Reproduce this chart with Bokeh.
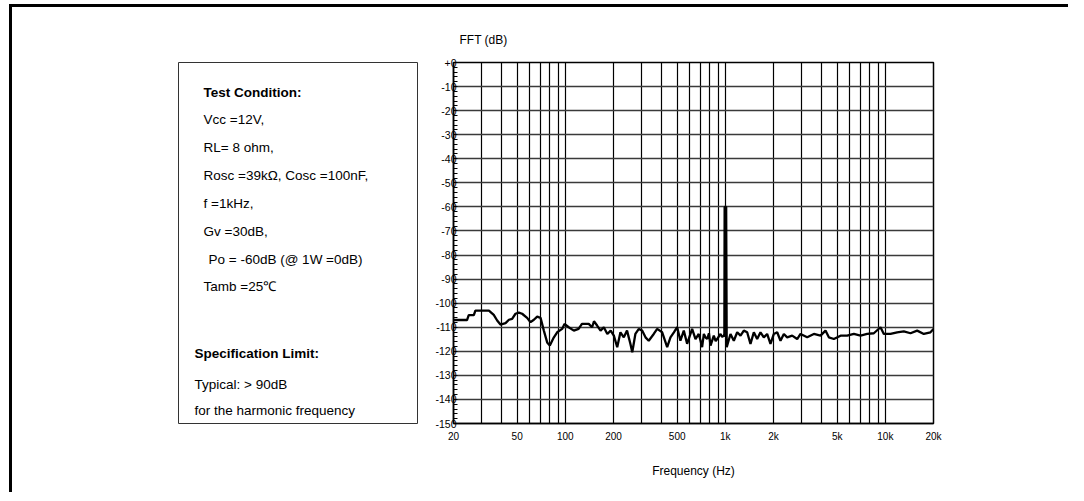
from bokeh.plotting import figure
from bokeh.models import Range1d, FixedTicker
from bokeh.layouts import row
from bokeh.embed import file_html
from bokeh.resources import INLINE
from bokeh.core.properties import value

# ---------------- data ----------------
freq_hz = [20, 24.3, 24.9, 26.8, 27.4, 33.3, 35.7, 37.5, 39.3, 42.3, 44.4, 46.5, 48.8, 51.2,
           53.7, 57.7, 60.6, 63.6, 66.7, 70, 73.4, 77, 80, 84.8, 88.9, 95.5, 98.8, 105, 113,
           121, 127, 140, 147, 151, 158, 166, 174, 183, 192, 201, 211, 221, 232, 243, 255,
           262, 274, 288, 302, 317, 332, 357, 375, 403, 433, 454, 477, 500, 524, 550, 577,
           620, 651, 682, 700, 716, 734, 751, 770, 790, 808, 847, 870, 889, 933, 955, 979,
           986, 990, 1012, 1020, 1077, 1130, 1186, 1244, 1305, 1369, 1436, 1507, 1581, 1658,
           1740, 1825, 1915, 2010, 2109, 2212, 2321, 2435, 2617, 2812, 2950, 3248, 3575, 3935,
           4226, 4436, 4768, 5248, 5777, 6357, 6998, 7700, 8475, 9328, 9786, 10772, 11854,
           13048, 14360, 15806, 17400, 19150, 20000]
fft_db = [-107, -107, -105, -105, -103.1, -103.1, -104.9, -107.2, -108.9, -108.3, -106.9, -106.5,
          -104.4, -103.9, -104.4, -106.1, -107.9, -106.9, -105.6, -106.1, -111.4, -116.3, -117.6,
          -114.2, -112.1, -110.7, -108.6, -110, -111.4, -110.7, -108.6, -108.6, -110, -107.5,
          -109.3, -111.4, -110, -112.8, -111.4, -113.5, -118.3, -112.1, -114.2, -111.4, -116.9,
          -120.4, -112.8, -110.7, -111.4, -114.2, -115.6, -112.8, -110.7, -112.1, -118.3, -114.2,
          -112.1, -110, -115.6, -111.4, -116.9, -110.7, -114.9, -112.8, -115.6, -118.3, -112.8,
          -114.2, -114.9, -112.5, -117.6, -113.5, -115.8, -114.9, -112.8, -114, -113.5,
          -114, -60, -60, -118.3, -112.8, -115.6, -112.1, -113.5, -111.4, -112.1, -116.9, -112.1,
          -114.9, -112.1, -114.2, -112.8, -116.9, -112.8, -112.1, -115.6, -112.8, -114.2, -113.5,
          -114.9, -112.8, -114.2, -112.8, -113.5, -111.4, -114.2, -114.9, -113.5, -113.5, -112.8,
          -113.5, -112.8, -112.5, -110, -112.8, -112.8, -112.1, -111.7, -112.5, -111.4, -112.8,
          -112.1, -110.7]

y_ticks = list(range(-150, 1, 10))
y_minor = list(range(-150, 1, 2))
y_tick_text = ["+0" if v == 0 else str(v) for v in y_ticks]
x_label_ticks = [20, 50, 100, 200, 500, 1000, 2000, 5000, 10000, 20000]
x_label_text = ["20", "50", "100", "200", "500", "1k", "2k", "5k", "10k", "20k"]
x_grid_ticks = [20, 30, 40, 50, 60, 70, 80, 90, 100, 200, 300, 400, 500, 600, 700, 800, 900,
                1000, 2000, 3000, 4000, 5000, 6000, 7000, 8000, 9000, 10000, 20000]

condition_title = "Test Condition:"
condition_lines = ["Vcc =12V,", "RL= 8 ohm,", "Rosc =39kΩ, Cosc =100nF,", "f =1kHz,",
                   "Gv =30dB,", "Po = -60dB (@ 1W =0dB)", "Tamb =25℃"]
spec_title = "Specification Limit:"
spec_lines = ["Typical: > 90dB", "for the harmonic   frequency"]

# ---------------- layout (page pixels) ----------------
OX, OY = 12, 7                     # page position of the layout content
FL, FR, FT, FB = 453, 933, 62, 423 # chart frame in page pixels
BOX_L, BOX_R = 178, 418            # text box left/right edges in page pixels
H = 485
W_LEFT = BOX_R - OX
W_RIGHT = 650
FONT = "Liberation Sans"
TXT = "13.5px"

# ---------- left panel: text box (its frame is the box) ----------
left = figure(width=W_LEFT, height=H, x_range=Range1d(BOX_L, BOX_R),
              y_range=Range1d(FB, FT), output_backend="svg", toolbar_location=None,
              x_axis_location=None, y_axis_location=None,
              min_border_left=BOX_L - OX, min_border_right=0,
              min_border_top=FT - OY, min_border_bottom=OY + H - FB)
left.grid.visible = False
left.outline_line_color = "#333333"
left.outline_line_width = 1
left.background_fill_color = "white"
left.border_fill_color = "white"

cond_x = [203, 203, 203, 203, 203, 208, 203]
cond_y = [119, 147, 175, 203, 231, 259, 286]
left.text(x=[203], y=[92], text=[condition_title], text_font=value(FONT),
          text_font_size=TXT, text_font_style="bold", text_baseline="middle",
          text_color="black")
left.text(x=cond_x, y=cond_y, text=condition_lines, text_font=value(FONT),
          text_font_size=TXT, text_baseline="middle", text_color="black")
left.text(x=[194], y=[353], text=[spec_title], text_font=value(FONT),
          text_font_size=TXT, text_font_style="bold", text_baseline="middle",
          text_color="black")
left.text(x=[194, 194], y=[384, 410], text=spec_lines, text_font=value(FONT),
          text_font_size=TXT, text_baseline="middle", text_color="black")

# ---------- right panel: FFT chart ----------
RX = BOX_R
p = figure(width=W_RIGHT, height=H, x_axis_type="log",
           x_range=Range1d(20, 20000), y_range=Range1d(-150, 0),
           output_backend="svg", toolbar_location=None,
           min_border_left=FL - RX, min_border_right=W_RIGHT - (FR - RX),
           min_border_top=FT - OY, min_border_bottom=OY + H - FB)
p.background_fill_color = "white"
p.border_fill_color = "white"
p.outline_line_color = "black"
p.outline_line_width = 1.5

p.title.text = "FFT (dB)"
p.title.align = "left"
p.title.offset = 6
p.title.text_font = FONT
p.title.text_font_size = "12px"
p.title.text_font_style = "normal"
p.title.text_color = "black"
p.title.standoff = 32

p.xaxis.ticker = FixedTicker(ticks=x_label_ticks)
p.xaxis.major_label_overrides = {t: s for t, s in zip(x_label_ticks, x_label_text)}
p.xaxis.major_tick_out = 0
p.xaxis.major_tick_in = 0
p.xaxis.minor_tick_out = 0
p.xaxis.minor_tick_in = 0
p.xaxis.major_label_standoff = 7
p.xaxis.axis_label = "Frequency (Hz)"
p.xaxis.axis_label_text_font = FONT
p.xaxis.axis_label_text_font_size = "12px"
p.xaxis.axis_label_text_font_style = "normal"
p.xaxis.axis_label_text_color = "black"
p.xaxis.axis_label_standoff = 19
p.xaxis.major_label_text_font_size = "10px"

p.yaxis.ticker = FixedTicker(ticks=y_ticks, minor_ticks=y_minor)
p.yaxis.major_label_overrides = {t: s for t, s in zip(y_ticks, y_tick_text)}
p.yaxis.major_tick_out = 0
p.yaxis.major_tick_in = 0
p.yaxis.minor_tick_out = 0
p.yaxis.minor_tick_in = 4
p.yaxis.major_label_standoff = -3
p.yaxis.major_label_text_font_size = "10.5px"

for ax in (p.xaxis, p.yaxis):
    ax.axis_line_color = "black"
    ax.axis_line_width = 1.5
    ax.major_label_text_font = FONT
    ax.major_label_text_color = "black"
    ax.minor_tick_line_color = "black"

p.xgrid.ticker = FixedTicker(ticks=x_grid_ticks)
p.xgrid.grid_line_color = "black"
p.xgrid.grid_line_width = 1.2
p.ygrid.ticker = FixedTicker(ticks=y_ticks)
p.ygrid.grid_line_color = "#3a3a3a"
p.ygrid.grid_line_width = 1.5

p.line(freq_hz, fft_db, line_color="black", line_width=2.3)

layout = row(left, p, spacing=0,
             styles={"margin-left": "9px", "margin-top": "4px",
                     "border-top": "3px solid black", "border-left": "3px solid black"})

open("out.html", "w").write(file_html(layout, INLINE))
